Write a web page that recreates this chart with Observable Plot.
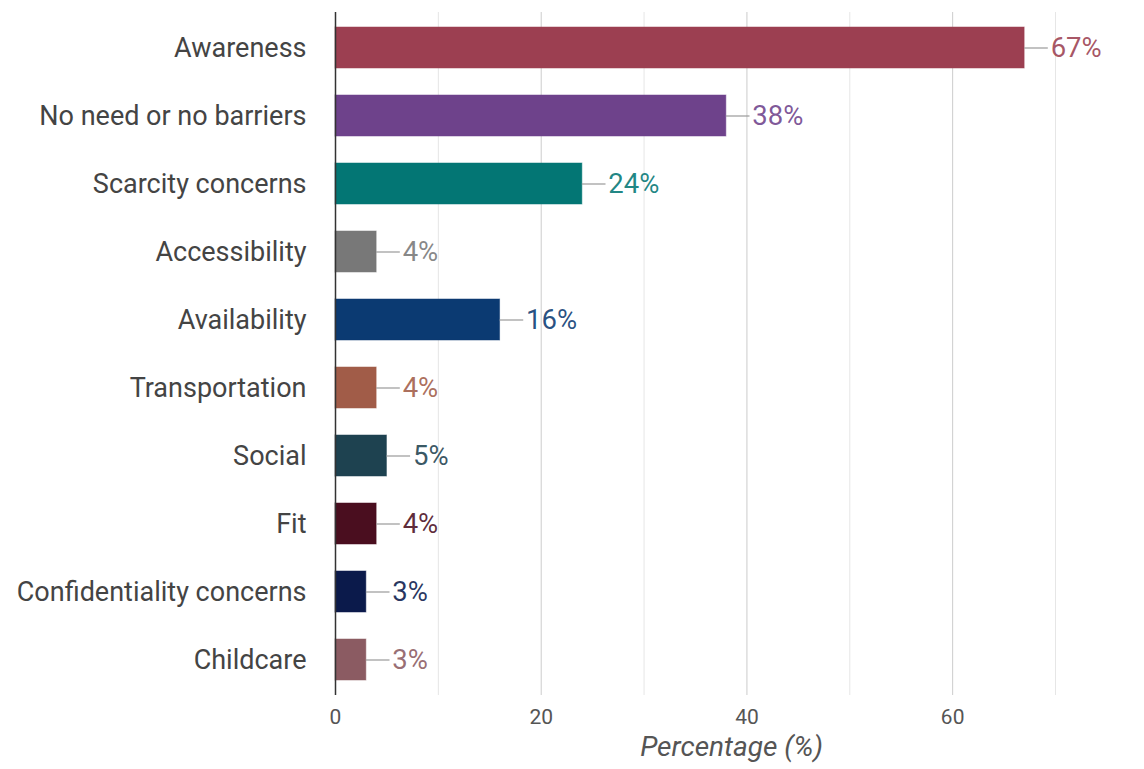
<!DOCTYPE html>
<html>
<head>
<meta charset="utf-8">
<script src="https://cdn.jsdelivr.net/npm/d3@7"></script>
<script src="https://cdn.jsdelivr.net/npm/@observablehq/plot@0.6"></script>
<style>
  html, body { margin: 0; padding: 0; background: #fff; }
  #chart svg { display: block; font-family: Roboto, "Noto Sans", sans-serif; }
</style>
</head>
<body>
<div id="chart"></div>
<script>
const categories = ["Awareness", "No need or no barriers", "Scarcity concerns", "Accessibility", "Availability", "Transportation", "Social", "Fit", "Confidentiality concerns", "Childcare"];
const values = [67, 38, 24, 4, 16, 4, 5, 4, 3, 3];
const colors = ["#9c3f51", "#6e428b", "#037674", "#787878", "#0b3a72", "#a15c48", "#1e4250", "#4a0e1f", "#0b1a4b", "#8b5b62"];
const majorTicks = [0, 20, 40, 60];
const minorTicks = [10, 30, 50, 70];
const xLabel = "Percentage (%)";

const data = categories.map((c, i) => ({category: c, value: values[i], color: colors[i]}));

const chart = Plot.plot({
  width: 1144,
  height: 769,
  marginTop: 12,
  marginBottom: 74,
  marginLeft: 335,
  marginRight: 17,
  style: {fontFamily: "Roboto, sans-serif", background: "#fff"},
  x: {domain: [0, 77]},
  y: {domain: categories, paddingInner: 0.4, paddingOuter: 0.2},
  marks: [
    Plot.ruleX(minorTicks, {stroke: "#e6e6e6", strokeWidth: 1}),
    Plot.ruleX(majorTicks.filter(d => d > 0), {stroke: "#cccccc", strokeWidth: 1}),
    Plot.barX(data, {
      y: "category", x: "value",
      fill: d => d.color,
      stroke: d => d.color, strokeOpacity: 0.5, strokeWidth: 1
    }),
    Plot.ruleY(data, {
      y: "category", x1: "value", x2: d => d.value + 2.3,
      stroke: "#999999", strokeWidth: 1.2
    }),
    Plot.text(data, {
      y: "category", x: "value", text: d => d.value + "%",
      dx: 26, textAnchor: "start", fill: d => d.color, fillOpacity: 0.88,
      fontSize: 27.5
    }),
    Plot.ruleX([0], {stroke: "#333333", strokeWidth: 1.5}),
    Plot.axisY({tickSize: 0, tickPadding: 29, fontSize: 27, color: "#444", label: null}),
    Plot.axisX({ticks: majorTicks, tickSize: 0, tickPadding: 14, fontSize: 21, color: "#555", label: null}),
    Plot.text([xLabel], {frameAnchor: "bottom", dy: 60, fontSize: 28, fontStyle: "italic", fill: "#555"})
  ]
});
document.getElementById("chart").appendChild(chart);
</script>
</body>
</html>
